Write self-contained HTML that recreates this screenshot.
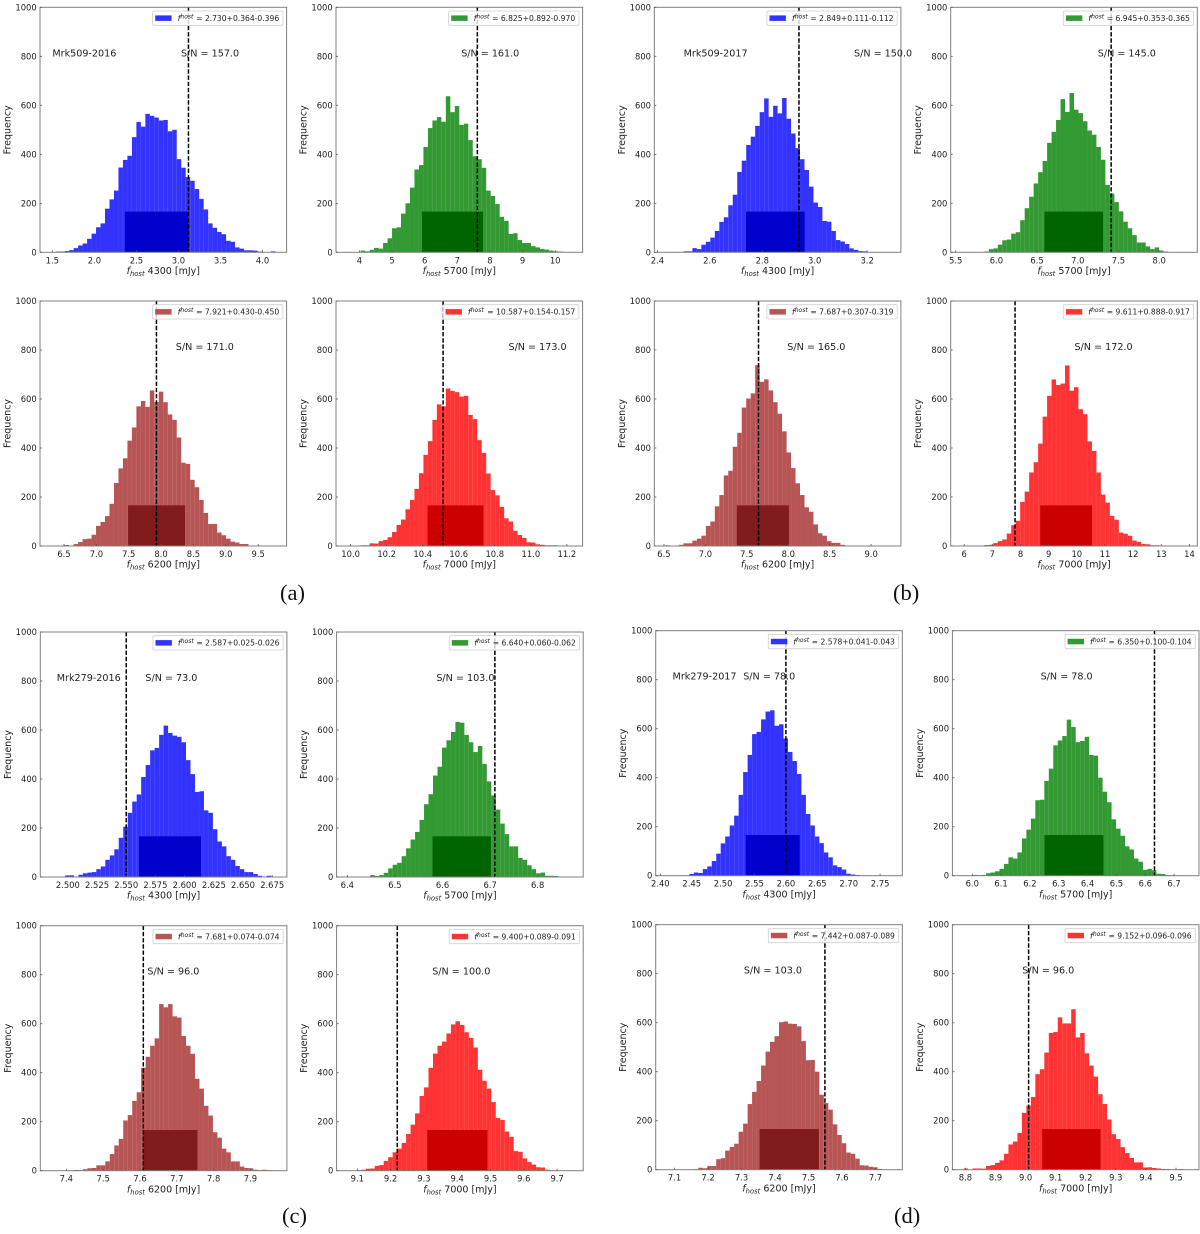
<!DOCTYPE html>
<html lang="en">
<head>
<meta charset="utf-8">
<title>Host flux histograms</title>
<style>
html,body{margin:0;padding:0;background:#fff;width:1200px;height:1234px;overflow:hidden}
svg{display:block;filter:blur(0.35px)}
text{font-family:"DejaVu Sans","Liberation Sans",sans-serif;fill:#222}
.caption{font-family:"Liberation Serif",serif;font-size:22.5px;fill:#111}
</style>
</head>
<body>
<svg id="figure" xmlns="http://www.w3.org/2000/svg" width="1200" height="1234" viewBox="0 0 1200 1234">
  <g id="plots"></g>
  <text class="caption" x="280" y="600">(a)</text>
  <text class="caption" x="893" y="600">(b)</text>
  <text class="caption" x="282" y="1223">(c)</text>
  <text class="caption" x="894" y="1223">(d)</text>
</svg>
<script>
// ---------- chart data ----------
const yTicks = [0, 200, 400, 600, 800, 1000];
const yMax = 1000;
const bandHeight = 166;

const countsA1 = [1,3,3,5,9,17,28,36,55,76,102,118,178,216,252,346,377,394,470,532,513,565,557,550,538,540,494,500,380,345,307,292,258,218,175,118,100,83,74,47,43,20,15,8,8,7,3,1,1,4];
const countsA2 = [0,1,0,7,4,10,18,15,38,57,98,102,158,200,264,338,356,430,507,538,552,533,637,572,597,520,525,458,392,380,345,252,230,197,145,128,75,78,50,38,38,25,20,14,11,7,4,3,1,1];
const countsA3 = [0,0,0,4,2,8,16,28,30,46,82,98,122,172,257,317,358,430,484,570,592,568,635,588,630,587,537,515,443,340,335,270,240,188,135,90,90,55,44,30,18,14,8,8,2,1,0,1,2,0];
const countsA4 = [1,1,2,3,3,11,10,20,25,36,57,86,108,150,188,233,297,372,428,515,578,570,643,633,628,610,613,535,518,432,380,296,228,207,160,113,100,62,45,33,15,14,7,5,3,3,3,1,0,1];
const countsB1 = [0,0,0,1,4,4,17,13,31,43,60,87,124,143,192,235,328,374,438,472,516,572,628,553,598,567,630,545,485,425,380,336,268,203,185,128,125,87,50,44,34,16,10,5,4,1,1,0,0,0];
const countsB2 = [0,0,1,1,1,3,13,16,31,49,52,76,82,131,180,227,281,327,373,447,492,540,625,573,650,582,568,535,497,480,430,378,275,240,205,167,125,98,70,40,40,24,13,20,7,3,1,0,1,1];
const countsB3 = [3,1,2,5,11,11,22,30,42,82,100,162,208,288,307,405,462,565,602,623,738,670,680,635,587,540,468,382,318,256,208,158,140,88,52,42,20,13,13,5,2,2,1,0,0,0,0,0,0,0];
const countsB4 = [0,0,0,0,2,4,5,12,20,27,51,85,103,180,222,300,342,418,528,613,680,657,663,737,634,648,558,538,427,388,300,210,177,123,107,55,50,42,22,17,8,7,3,3,2,1,1,0,0,0];
const countsC1 = [0,1,2,6,7,2,9,15,18,20,32,43,70,88,113,160,205,262,308,337,408,457,517,527,580,618,588,577,572,550,477,420,347,350,272,262,195,145,125,85,70,45,32,20,20,12,5,2,5,0];
const countsC2 = [0,0,0,0,1,8,4,8,17,35,50,58,85,117,153,184,233,297,338,414,450,528,558,592,633,630,580,550,510,535,462,390,333,275,218,175,125,125,78,70,48,32,15,18,5,5,4,2,2,1];
const countsC3 = [0,0,0,1,0,3,2,6,10,11,22,22,38,68,103,130,205,227,285,320,420,465,510,540,680,667,680,630,625,550,510,477,375,335,265,225,157,135,90,75,38,38,17,11,10,4,2,4,2,1];
const countsC4 = [1,0,2,4,8,9,20,23,40,55,75,90,113,150,188,234,305,340,420,478,510,527,560,597,610,595,565,542,503,412,367,335,280,215,207,160,138,80,77,50,35,25,14,13,4,2,1,1,1,1];
const countsD1 = [0,0,0,1,1,7,13,11,27,38,60,90,132,160,205,245,330,423,493,578,587,638,670,675,612,618,560,505,468,415,330,252,205,160,133,95,75,42,35,25,8,5,3,1,1,0,1,0,0,0];
const countsD2 = [1,1,3,2,3,10,13,18,28,48,75,70,95,152,188,233,308,310,387,437,532,552,570,637,607,545,550,567,493,490,400,343,300,230,192,163,120,107,70,57,24,28,22,8,7,2,2,1,0,0];
const countsD3 = [0,0,0,0,0,1,2,8,6,15,15,43,47,78,93,106,155,188,268,318,362,425,482,522,545,602,605,596,595,585,525,447,448,400,306,272,245,185,142,108,70,65,45,18,17,12,10,3,1,1];
const countsD4 = [5,0,5,5,4,15,19,28,38,65,103,115,150,232,262,297,390,410,478,558,562,622,597,597,655,540,558,475,425,380,308,268,205,145,125,92,68,48,30,30,9,10,7,5,3,3,1,1,3,0];

const seriesCounts = [countsA1,countsA2,countsA3,countsA4,countsB1,countsB2,countsB3,countsB4,countsC1,countsC2,countsC3,countsC4,countsD1,countsD2,countsD3,countsD4];

const binRanges = [[1.4865,4.153],[3.627,10.497],[6.302,9.766],[9.981,11.225],[2.431,3.286],[5.576,8.331],[6.5185,9.224],[5.92,13.88],[2.486,2.678],[6.401,6.872],[7.3597,7.9685],[9.0715,9.7447],[2.4105,2.7675],[5.97,6.7475],[7.0773,7.7466],[8.7939,9.5392]];
const markerValues = [3.119,7.615,7.928,10.513,2.94,7.41,7.641,7.807,2.55,6.71,7.609,9.22,2.6,6.632,7.549,9.01];
const bandRanges = [[2.362,3.119],[5.92,7.79],[7.49,8.372],[10.427,10.737],[2.738,2.962],[6.59,7.31],[7.379,8.008],[8.7,10.54],[2.561,2.614],[6.579,6.702],[7.609,7.756],[9.31,9.491],[2.536,2.622],[6.25,6.455],[7.354,7.531],[9.055,9.249]];

const xTickLabels = [
  ["1.5","2.0","2.5","3.0","3.5","4.0"],
  ["4","5","6","7","8","9","10"],
  ["6.5","7.0","7.5","8.0","8.5","9.0","9.5"],
  ["10.0","10.2","10.4","10.6","10.8","11.0","11.2"],
  ["2.4","2.6","2.8","3.0","3.2"],
  ["5.5","6.0","6.5","7.0","7.5","8.0"],
  ["6.5","7.0","7.5","8.0","8.5","9.0"],
  ["6","7","8","9","10","11","12","13","14"],
  ["2.500","2.525","2.550","2.575","2.600","2.625","2.650","2.675"],
  ["6.4","6.5","6.6","6.7","6.8"],
  ["7.4","7.5","7.6","7.7","7.8","7.9"],
  ["9.1","9.2","9.3","9.4","9.5","9.6","9.7"],
  ["2.40","2.45","2.50","2.55","2.60","2.65","2.70","2.75"],
  ["6.0","6.1","6.2","6.3","6.4","6.5","6.6","6.7"],
  ["7.1","7.2","7.3","7.4","7.5","7.6","7.7"],
  ["8.8","8.9","9.0","9.1","9.2","9.3","9.4","9.5"]
];

const wavelengths = ["4300","5700","6200","7000"];
const fitLabels = ["2.730+0.364-0.396","6.825+0.892-0.970","7.921+0.430-0.450","10.587+0.154-0.157","2.849+0.111-0.112","6.945+0.353-0.365","7.687+0.307-0.319","9.611+0.888-0.917","2.587+0.025-0.026","6.640+0.060-0.062","7.681+0.074-0.074","9.400+0.089-0.091","2.578+0.041-0.043","6.350+0.100-0.104","7.442+0.087-0.089","9.152+0.096-0.096"];
const snrLabels = ["157.0","161.0","171.0","173.0","150.0","145.0","165.0","172.0","73.0","103.0","96.0","100.0","78.0","78.0","103.0","96.0"];
const snrAnchors = [3.03,7.12,8.227,10.876,3.15,7.246,7.988,9.917,2.5664,6.587,7.62,9.325,2.532,6.237,7.307,8.989];
const targetNames = ["Mrk509-2016","Mrk509-2017","Mrk279-2016","Mrk279-2017"];
const targetAnchors = [1.5,2.5,2.4905,2.4195];

// ---------- layout and styling (not data) ----------
const panelLefts = [[40,336],[654.3,950.7],[40.3,336.6],[655.7,952.4]];
const panelTops = [[7.3,301],[7.3,301],[632,925.7],[630.7,924.7]];
const panelWidth = 246.6;
const panelHeight = 245;
const barColors = ["#0000ff","#008000","#a52a2a","#ff0000"];
const bandColors = ["#0000cc","#006400","#801c1c","#cc0000"];
const SVG_NS = "http://www.w3.org/2000/svg";

function make(tag, attrs, parent, content) {
  const node = document.createElementNS(SVG_NS, tag);
  for (const key in attrs) node.setAttribute(key, attrs[key]);
  if (content !== undefined) node.textContent = content;
  parent.appendChild(node);
  return node;
}

function drawPanel(root, index) {
  const group = Math.floor(index / 4);
  const slot = index % 4;
  const left = panelLefts[group][slot % 2];
  const top = panelTops[group][slot < 2 ? 0 : 1];
  const right = left + panelWidth;
  const bottom = top + panelHeight;

  const counts = seriesCounts[index];
  const binMin = binRanges[index][0];
  const binMax = binRanges[index][1];
  const pad = (binMax - binMin) * 0.05;
  const xLo = binMin - pad;
  const xHi = binMax + pad;
  const xScale = v => left + (v - xLo) / (xHi - xLo) * panelWidth;
  const yScale = v => bottom - v / yMax * panelHeight;
  const binWidth = (binMax - binMin) / counts.length;

  const g = make("g", {}, root);
  
  

  counts.forEach((count, i) => {
    const x0 = xScale(binMin + i * binWidth);
    const x1 = xScale(binMin + (i + 1) * binWidth);
    const bar = make("rect", {x: x0, y: yScale(count), width: x1 - x0, height: bottom - yScale(count), fill: barColors[slot], "fill-opacity": 0.8}, g);
    
    
  });

  const bandLo = xScale(bandRanges[index][0]);
  const bandHi = xScale(bandRanges[index][1]);
  const band = make("rect", {x: bandLo, y: yScale(bandHeight), width: bandHi - bandLo, height: bottom - yScale(bandHeight), fill: bandColors[slot]}, g);
  
  

  const markerX = xScale(markerValues[index]);
  const marker = make("line", {x1: markerX, x2: markerX, y1: top, y2: bottom, stroke: "#000", "stroke-width": 1.5, "stroke-dasharray": "4.4 1.8"}, g);
  
  

  const frame = make("rect", {x: left, y: top, width: panelWidth, height: panelHeight, fill: "none", stroke: "#808080", "stroke-width": 1}, g);
  
  

  yTicks.forEach(v => {
    const y = yScale(v);
    const tick = make("line", {x1: left, x2: left + 2, y1: y, y2: y, stroke: "#555", "stroke-width": 0.8}, g);
    
    
    const label = make("text", {x: left - 3.3, y: y + 3, "text-anchor": "end", "font-size": 8.4}, g, String(v));
    
    
  });

  xTickLabels[index].forEach(str => {
    const x = xScale(parseFloat(str));
    const tick = make("line", {x1: x, x2: x, y1: bottom, y2: bottom - 2, stroke: "#555", "stroke-width": 0.8}, g);
    
    
    const label = make("text", {x: x, y: bottom + 11, "text-anchor": "middle", "font-size": 8.4}, g, str);
    
    
  });

  const yTitle = make("text", {transform: "translate(" + (left - 29.5) + " " + (top + panelHeight / 2) + ") rotate(-90)", "text-anchor": "middle", "font-size": 9.5}, g, "Frequency");
  
  

  const xTitle = make("text", {x: left + panelWidth / 2, y: bottom + 21.7, "text-anchor": "middle", "font-size": 9.5}, g);
  
  
  make("tspan", {"font-style": "italic"}, xTitle, "f");
  make("tspan", {"font-style": "italic", "font-size": 6.8, dy: 2}, xTitle, "host");
  make("tspan", {dy: -2}, xTitle, " " + wavelengths[slot] + " [mJy]");

  const snrText = make("text", {x: xScale(snrAnchors[index]), y: yScale(800), "font-size": 9.6}, g, "S/N = " + snrLabels[index]);
  
  

  if (slot === 0) {
    const nameText = make("text", {x: xScale(targetAnchors[group]), y: yScale(800), "font-size": 9.6}, g, targetNames[group]);
    
    
  }

  const fit = fitLabels[index];
  const legendWidth = fit.indexOf(".") > 1 ? 136 : 130.3;
  const legendRight = right - 3.7;
  const legendLeft = legendRight - legendWidth;
  const legendTop = top + 3.7;

  const legend = make("g", {}, g);
  
  
  const legendBox = make("rect", {x: legendLeft, y: legendTop, width: legendWidth, height: 14.3, rx: 1.4, fill: "#fff", "fill-opacity": 0.8, stroke: "#d0d0d0", "stroke-width": 0.8}, legend);
  
  
  const swatch = make("rect", {x: legendLeft + 2.6, y: legendTop + 4.4, width: 16.4, height: 5.5, fill: barColors[slot], "fill-opacity": 0.8}, legend);
  
  
  const fitSymbol = make("text", {x: legendLeft + 25, y: legendTop + 10, "font-size": 8}, legend);
  
  
  make("tspan", {"font-style": "italic"}, fitSymbol, "f");
  make("tspan", {"font-style": "italic", "font-size": 6, dy: -2.6}, fitSymbol, "host");
  const fitValue = make("text", {x: legendRight - 3.7, y: legendTop + 10, "text-anchor": "end", "font-size": 7.6}, legend, "= " + fit);
  
  
}

const plotsRoot = document.getElementById("plots");
seriesCounts.forEach((_, i) => drawPanel(plotsRoot, i));
</script>
</body>
</html>
